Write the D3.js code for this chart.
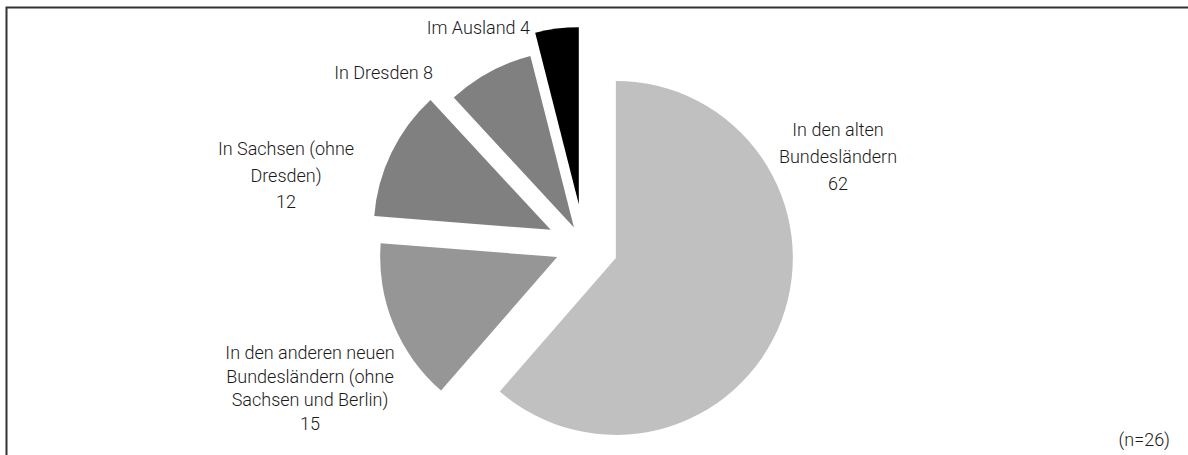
<!DOCTYPE html>
<html>
<head>
<meta charset="utf-8">
<script src="https://cdn.jsdelivr.net/npm/d3@7"></script>
<style>
  body { margin: 0; background: #fff; }
  svg { display: block; }
  .lbl { font-family: Roboto, "Liberation Sans", Arial, sans-serif; font-weight: 300; font-size: 18px; fill: #1a1a1a; }
</style>
</head>
<body>
<div id="chart"></div>
<script>
// data
var categories = [
  "In den alten Bundesländern",
  "In den anderen neuen Bundesländern (ohne Sachsen und Berlin)",
  "In Sachsen (ohne Dresden)",
  "In Dresden",
  "Im Ausland"
];
var values = [62, 15, 12, 8, 4];
var nameLines = [
  ["In den alten", "Bundesländern"],
  ["In den anderen neuen", "Bundesländern (ohne", "Sachsen und Berlin)"],
  ["In Sachsen (ohne", "Dresden)"],
  ["In Dresden"],
  ["Im Ausland"]
];
var note = "(n=26)";

// layout
var w = 1188, h = 455;
var cx = 584, cy = 246, r = 177;
var explode = [34, 29, 37, 21, 42];
var colors = ["#c0c0c0", "#969696", "#808080", "#808080", "#000000"];
// label anchors: [x, y of first baseline, line height, anchor, value on same line]
var labelPos = [
  [838, 136, 27, "middle", false],
  [310, 359, 23.5, "middle", false],
  [286, 155, 26.5, "middle", false],
  [433, 79, 0, "end", true],
  [530, 34, 0, "end", true]
];

var svg = d3.select("#chart").append("svg")
  .attr("width", w)
  .attr("height", h);

svg.append("rect")
  .attr("x", 6.5)
  .attr("y", 7.5)
  .attr("width", w + 10)
  .attr("height", h + 10)
  .attr("fill", "none")
  .attr("stroke", "#333")
  .attr("stroke-width", 2);

var pie = d3.pie().sort(null).value(function(d) { return d; });
var arcs = pie(values);
var arc = d3.arc().innerRadius(0).outerRadius(r);

var g = svg.append("g").attr("transform", "translate(" + cx + "," + cy + ")");

g.selectAll("path")
  .data(arcs)
  .enter().append("path")
  .attr("d", arc)
  .attr("fill", function(d, i) { return colors[i]; })
  .attr("transform", function(d, i) {
    var a = (d.startAngle + d.endAngle) / 2;
    return "translate(" + (explode[i] * Math.sin(a)) + "," + (-explode[i] * Math.cos(a)) + ")";
  });

arcs.forEach(function(d, i) {
  var p = labelPos[i];
  var lines = nameLines[i].slice();
  if (p[4]) {
    lines[lines.length - 1] += " " + values[i];
  } else {
    lines.push(String(values[i]));
  }
  var t = svg.append("text")
    .attr("class", "lbl")
    .attr("text-anchor", p[3])
    .attr("x", p[0])
    .attr("y", p[1]);
  lines.forEach(function(l, j) {
    t.append("tspan")
      .attr("x", p[0])
      .attr("y", p[1] + j * p[2])
      .text(l);
  });
});

svg.append("text")
  .attr("class", "lbl")
  .attr("text-anchor", "end")
  .attr("x", 1170)
  .attr("y", 446)
  .text(note);
</script>
</body>
</html>
